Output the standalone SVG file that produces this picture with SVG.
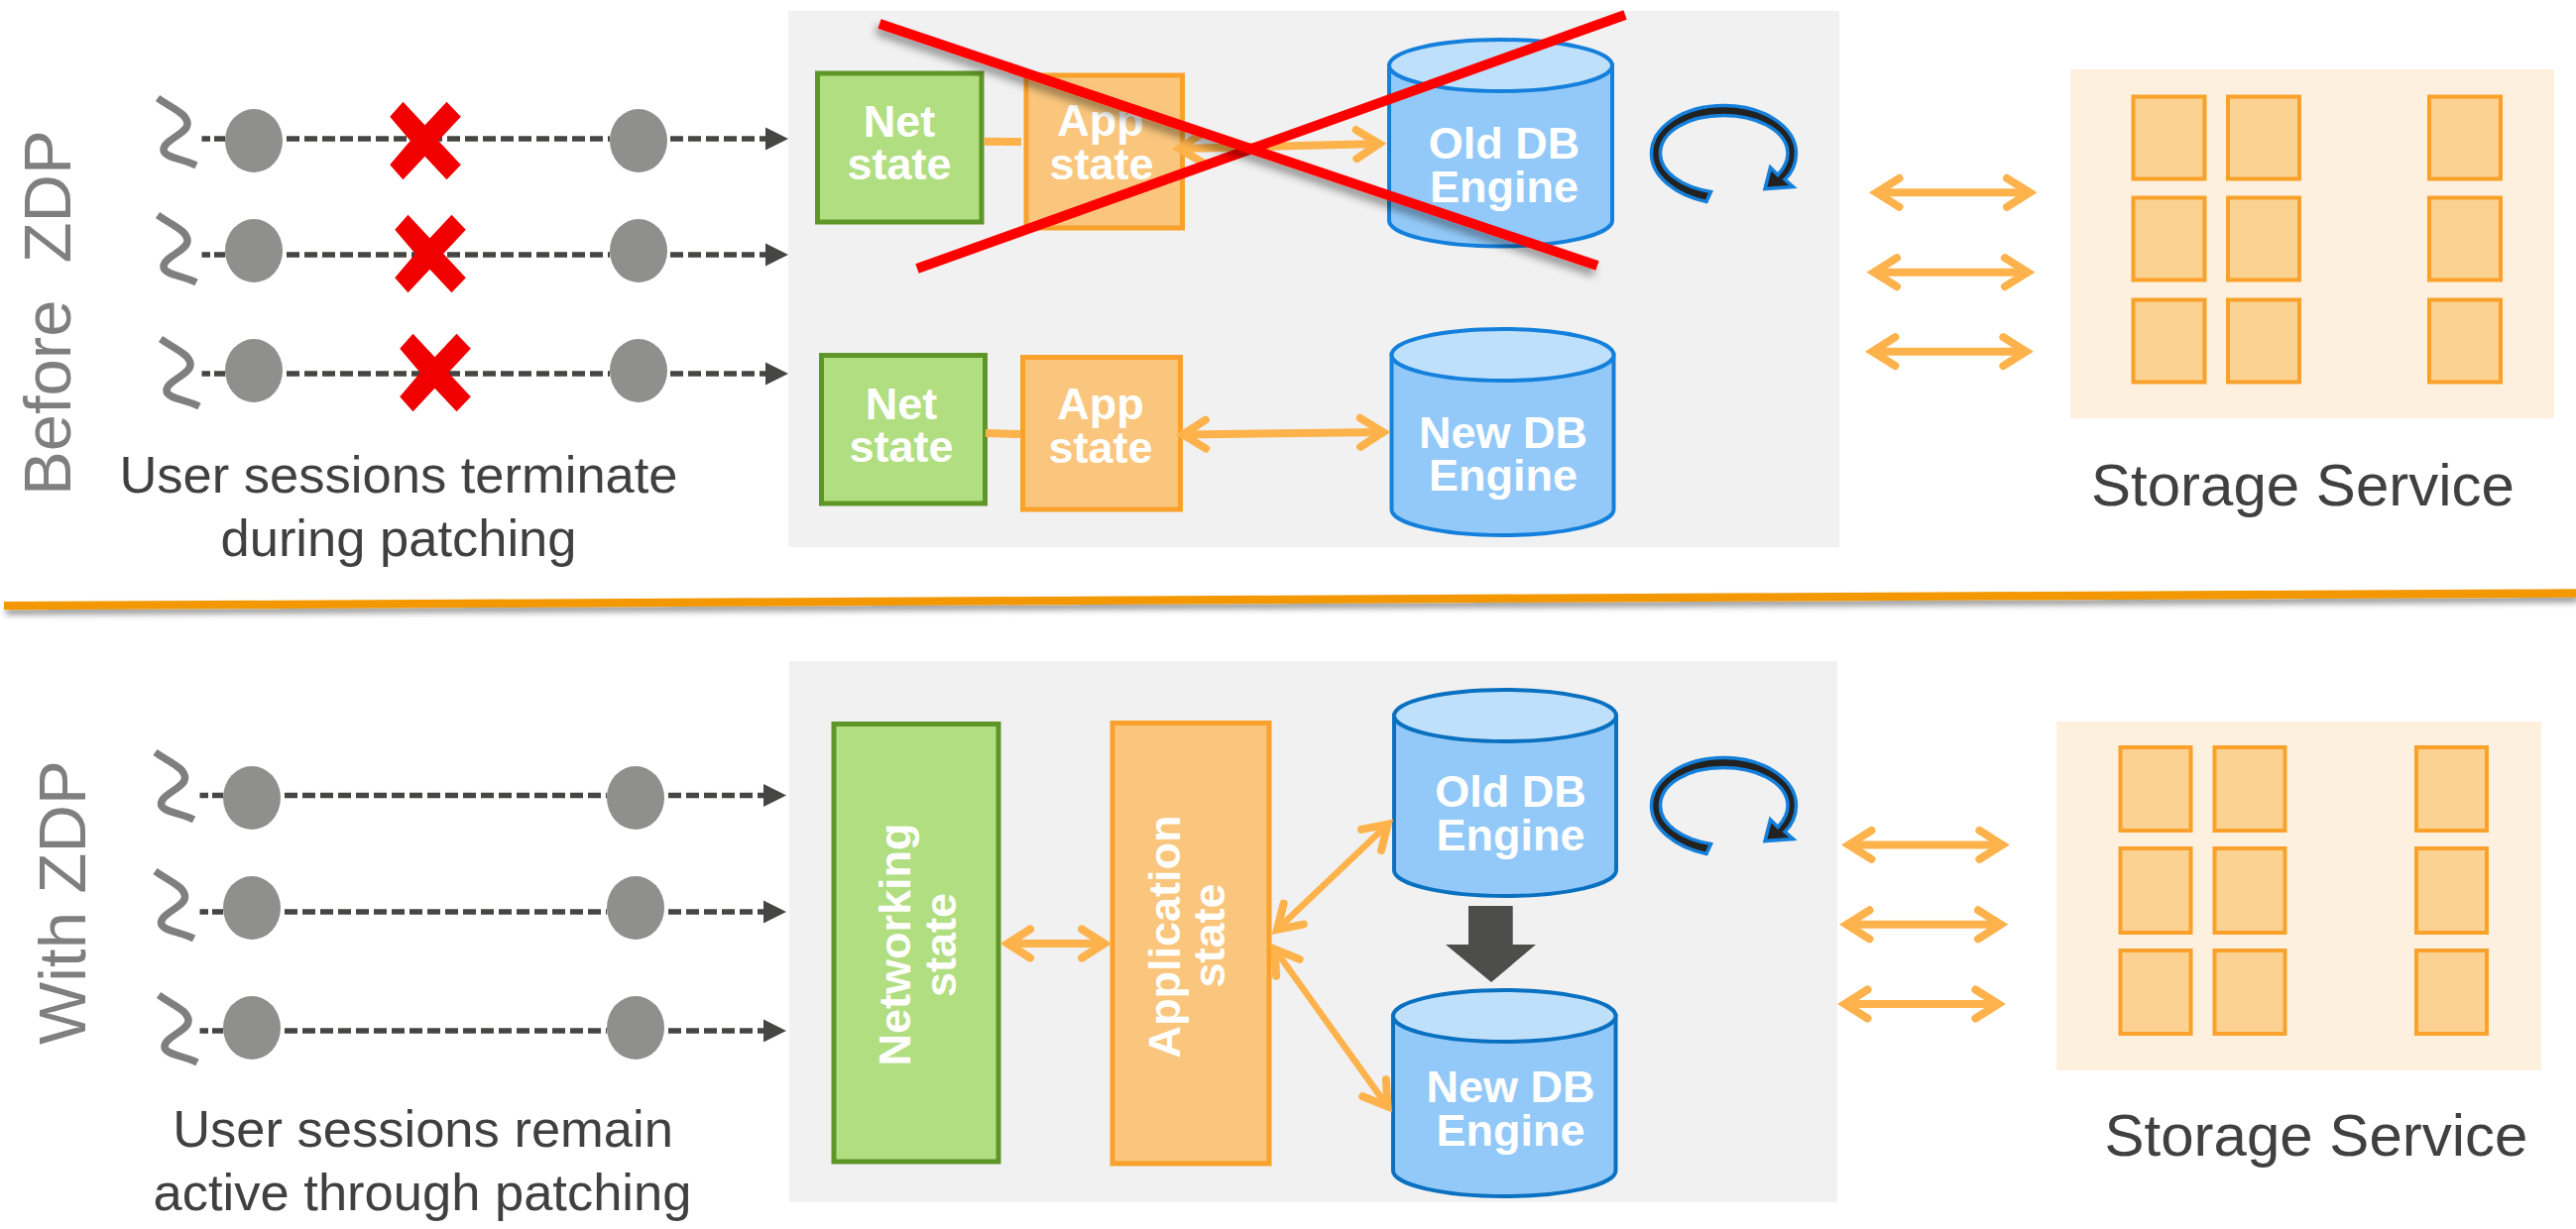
<svg xmlns="http://www.w3.org/2000/svg" width="2598" height="1240" viewBox="0 0 2598 1240">
<style>
text{font-family:"Liberation Sans",Arial,sans-serif}
.side{font-size:67px;fill:#7f7f7f}
.cap{font-size:52.5px;fill:#404040;text-anchor:middle}
.stor{font-size:60px;fill:#404040;text-anchor:middle}
.w{font-size:45px;font-weight:bold;fill:#fff;text-anchor:middle}
.panel{fill:#f1f1f1}
.net{fill:#b2de82;stroke:#5f9628;stroke-width:5}
.app{fill:#fac67d;stroke:#f9a12a;stroke-width:5}
.store{fill:#fdf0de}
.cell{fill:#fbd292;stroke:#f9a12a;stroke-width:4}
.dot{fill:#8f8f8d}
.cb{fill:#93c9f8;stroke:#1480dc;stroke-width:4}
.ct{fill:#bfe0fb;stroke:#1480dc;stroke-width:4}
.cb2{fill:#93c9f8;stroke:#0a70c0;stroke-width:4}
.ct2{fill:#bfe0fb;stroke:#0a70c0;stroke-width:4}
.dash{fill:none;stroke:#454543;stroke-width:5.300;stroke-dasharray:13 5;marker-end:url(#tri)}
.oa{fill:none;stroke:#fdb24b;stroke-width:8;marker-start:url(#chev);marker-end:url(#chev)}
.ot{fill:none;stroke:#fdb24b;stroke-width:6.500;marker-start:url(#chev);marker-end:url(#chev)}
.stub{fill:none;stroke:#fdb24b;stroke-width:8}
.rl{stroke:#f00;stroke-width:10;fill:none}
.ti{fill:none;stroke:#7f7f7f;stroke-width:7.500}
.xm{fill:#f00000}
</style>
<defs>
<marker id="tri" markerUnits="userSpaceOnUse" markerWidth="30" markerHeight="30" refX="0" refY="0" overflow="visible" orient="auto"><path d="M0,-11.500L23,0L0,11.500z" fill="#454543"/></marker>
<marker id="chev" markerUnits="userSpaceOnUse" markerWidth="40" markerHeight="40" refX="0" refY="0" overflow="visible" orient="auto-start-reverse"><path d="M-23,-14.500L0,0L-23,14.500" fill="none" stroke="#fdb24b" stroke-width="8" stroke-linecap="round" stroke-miterlimit="10"/></marker>
<filter id="sh" x="-10%" y="-30%" width="120%" height="170%"><feDropShadow dx="-3" dy="6" stdDeviation="4" flood-color="#000" flood-opacity=".4"/></filter>
<filter id="sh2" x="-2%" y="-400%" width="104%" height="1200%"><feDropShadow dx="2" dy="5" stdDeviation="3" flood-color="#000" flood-opacity=".4"/></filter>
<path id="tilde" d="M159,99C175,110 189,115 189,125C189,135 165,141 165,151C165,159 184,160 198,167" class="ti"/>
<polygon id="xmark" class="xm" points="-35.300,-24.300 -22,-39.300 0,-15.700 22,-39.300 36.300,-24.300 13.700,0 36.300,24.300 22,39.300 0,15.700 -22,39.300 -35.300,24.300 -14.700,0"/>
<path id="spin" d="M1721,203.500C1690,197 1665.500,178 1665.500,155C1665.500,128 1698,106.500 1738.500,106.500C1779,106.500 1811.500,128 1811.500,155C1811.500,165 1807,175 1800,181L1808.500,188.500L1780,190.500L1785.500,169L1793,176.500C1799,170 1803,163 1803,155C1803,133 1774,116.500 1738,116.500C1702,116.500 1674.500,133 1674.500,155C1674.500,174 1697,189 1725.500,193.500z" fill="#222" stroke="#1480dc" stroke-width="3.500"/>
</defs>
<rect width="2598" height="1240" fill="#fff"/>

<g id="label-before"><text class="side" transform="translate(71,500) rotate(-90)" xml:space="preserve">Before  ZDP</text></g>
<g id="label-with"><text class="side" transform="translate(86,1054) rotate(-90)">With ZDP</text></g>

<g id="panel-before"><rect class="panel" x="795" y="11" width="1060" height="541"/></g>
<g id="panel-with"><rect class="panel" x="796" y="667" width="1057" height="546"/></g>

<g id="sessions-before">
<use href="#tilde"/><use href="#tilde" y="118"/><use href="#tilde" x="3" y="243"/>
<ellipse class="dot" cx="256" cy="142" rx="29" ry="32"/><ellipse class="dot" cx="644" cy="142" rx="29" ry="32"/>
<ellipse class="dot" cx="256" cy="253" rx="29" ry="32"/><ellipse class="dot" cx="644" cy="253" rx="29" ry="32"/>
<ellipse class="dot" cx="256" cy="374" rx="29" ry="32"/><ellipse class="dot" cx="644" cy="374" rx="29" ry="32"/>
<text class="cap" x="402" y="497">User sessions terminate</text>
<text class="cap" x="402" y="560.500">during patching</text>
</g>
<g id="sessions-with">
<use href="#tilde" x="-2.500" y="660"/><use href="#tilde" x="-2.500" y="780"/><use href="#tilde" x="1" y="905"/>
<ellipse class="dot" cx="254" cy="805" rx="29" ry="32"/><ellipse class="dot" cx="641" cy="805" rx="29" ry="32"/>
<ellipse class="dot" cx="254" cy="916" rx="29" ry="32"/><ellipse class="dot" cx="641" cy="916" rx="29" ry="32"/>
<ellipse class="dot" cx="254" cy="1037" rx="29" ry="32"/><ellipse class="dot" cx="641" cy="1037" rx="29" ry="32"/>
<text class="cap" x="426.500" y="1156.500">User sessions remain</text>
<text class="cap" x="426" y="1220.500">active through patching</text>
</g>

<g id="net-old"><rect class="net" x="824.500" y="74" width="165.500" height="150"/><text class="w" x="907" y="138">Net</text><text class="w" x="907" y="181">state</text></g>
<g id="app-old"><rect class="app" x="1035" y="76" width="157.500" height="154"/><text class="w" x="1110" y="137">App</text><text class="w" x="1111" y="181">state</text></g>
<g id="db-old"><path class="cb" d="M1401,66V222.500A112.500,26 0 0 0 1626,222.500V66z"/><ellipse class="ct" cx="1513.500" cy="66" rx="112.500" ry="26"/><text class="w" x="1517" y="160">Old DB</text><text class="w" x="1517" y="204">Engine</text></g>
<g id="spin-old"><use href="#spin"/></g>
<g id="net-new"><rect class="net" x="828.500" y="358.500" width="165" height="149.500"/><text class="w" x="909" y="423">Net</text><text class="w" x="909" y="466">state</text></g>
<g id="app-new"><rect class="app" x="1031.500" y="360.500" width="159" height="153.500"/><text class="w" x="1110" y="423">App</text><text class="w" x="1110" y="467">state</text></g>
<g id="db-new"><path class="cb" d="M1403.500,358V514A112,26 0 0 0 1627.500,514V358z"/><ellipse class="ct" cx="1515.500" cy="358" rx="112" ry="26"/><text class="w" x="1516" y="451.500">New DB</text><text class="w" x="1516" y="494.500">Engine</text></g>

<g id="storage-before"><rect class="store" x="2088" y="70" width="488" height="352"/>
<rect class="cell" x="2151.500" y="97.500" width="72" height="83"/><rect class="cell" x="2247" y="97.500" width="72" height="83"/><rect class="cell" x="2450" y="97.500" width="72" height="83"/>
<rect class="cell" x="2151.500" y="199.500" width="72" height="83"/><rect class="cell" x="2247" y="199.500" width="72" height="83"/><rect class="cell" x="2450" y="199.500" width="72" height="83"/>
<rect class="cell" x="2151.500" y="302.500" width="72" height="83"/><rect class="cell" x="2247" y="302.500" width="72" height="83"/><rect class="cell" x="2450" y="302.500" width="72" height="83"/>
<text class="stor" x="2322.500" y="509.500">Storage Service</text></g>

<g id="net-zdp"><rect class="net" x="841" y="730.500" width="166" height="441.500"/><text class="w" transform="translate(918,953) rotate(-90)">Networking</text><text class="w" transform="translate(964,953.500) rotate(-90)">state</text></g>
<g id="app-zdp"><rect class="app" x="1122" y="729.500" width="158" height="444.500"/><text class="w" transform="translate(1190,945) rotate(-90)">Application</text><text class="w" transform="translate(1234.500,944) rotate(-90)">state</text></g>
<g id="db-zdp-old"><path class="cb2" d="M1406,722V878A112,26 0 0 0 1630,878V722z"/><ellipse class="ct2" cx="1518" cy="722" rx="112" ry="26"/><text class="w" x="1523.500" y="814">Old DB</text><text class="w" x="1523.500" y="857.500">Engine</text></g>
<g id="db-zdp-new"><path class="cb2" d="M1405,1025V1181A112,26 0 0 0 1629.500,1181V1025z"/><ellipse class="ct2" cx="1517.250" cy="1025" rx="112.250" ry="26"/><text class="w" x="1523.500" y="1112">New DB</text><text class="w" x="1523.500" y="1156">Engine</text></g>
<g id="spin-zdp"><use href="#spin" y="658"/></g>
<g id="patch-arrow"><polygon fill="#4d4d4b" points="1481,914 1525.700,914 1525.700,953 1549,953 1504,991 1458,953 1481,953"/></g>

<g id="storage-with"><rect class="store" x="2074" y="728" width="489" height="352"/>
<rect class="cell" x="2138.500" y="754" width="71" height="84"/><rect class="cell" x="2233.500" y="754" width="71" height="84"/><rect class="cell" x="2437" y="754" width="71" height="84"/>
<rect class="cell" x="2138.500" y="856" width="71" height="85"/><rect class="cell" x="2233.500" y="856" width="71" height="85"/><rect class="cell" x="2437" y="856" width="71" height="85"/>
<rect class="cell" x="2138.500" y="959" width="71" height="84"/><rect class="cell" x="2233.500" y="959" width="71" height="84"/><rect class="cell" x="2437" y="959" width="71" height="84"/>
<text class="stor" x="2336" y="1165.500">Storage Service</text></g>

<g id="connectors">
<path class="dash" d="M203.500,140H212M216,140H227M289,140H615M676,140H772"/>
<path class="dash" d="M203.500,257H212M216,257H227M289,257H615M676,257H772"/>
<path class="dash" d="M203.500,377H212M216,377H227M289,377H615M676,377H772"/>
<path class="dash" d="M201.500,802.500H210M214,802.500H225M287,802.500H612M674,802.500H770"/>
<path class="dash" d="M201.500,920H210M214,920H225M287,920H612M674,920H770"/>
<path class="dash" d="M201.500,1040H210M214,1040H225M287,1040H612M674,1040H770"/>
<path class="stub" d="M992.600,142.700L1030,143"/>
<path class="oa" d="M1189.400,150L1391,145"/>
<path class="stub" d="M994,437L1029,438"/>
<path class="oa" d="M1193,438.500L1395,436"/>
<path class="oa" d="M1892.500,194.300H2047"/><path class="oa" d="M1890,274.700H2045"/><path class="oa" d="M1888.400,354.700H2043.400"/>
<path class="oa" d="M1864.500,852.400H2019.400"/><path class="oa" d="M1862.500,932.800H2018"/><path class="oa" d="M1860.500,1013H2015.400"/>
<path class="oa" d="M1016,952H1114"/>
<path class="ot" d="M1288,937.900L1399.700,831.600"/>
<path class="ot" d="M1285.500,957.600L1399.500,1116.500"/>
</g>

<g id="kills">
<use href="#xmark" x="428.500" y="142"/><use href="#xmark" x="433.500" y="256"/><use href="#xmark" x="438.500" y="376"/>
</g>
<g id="strike">
<path class="rl" d="M1639,15L925,271"/>
<path class="rl" d="M887,24L1611,268" filter="url(#sh)"/>
</g>
<g id="divider"><path d="M4,611.200L2598,598.500" fill="none" stroke="#f39800" stroke-width="8.300" filter="url(#sh2)"/></g>
</svg>
